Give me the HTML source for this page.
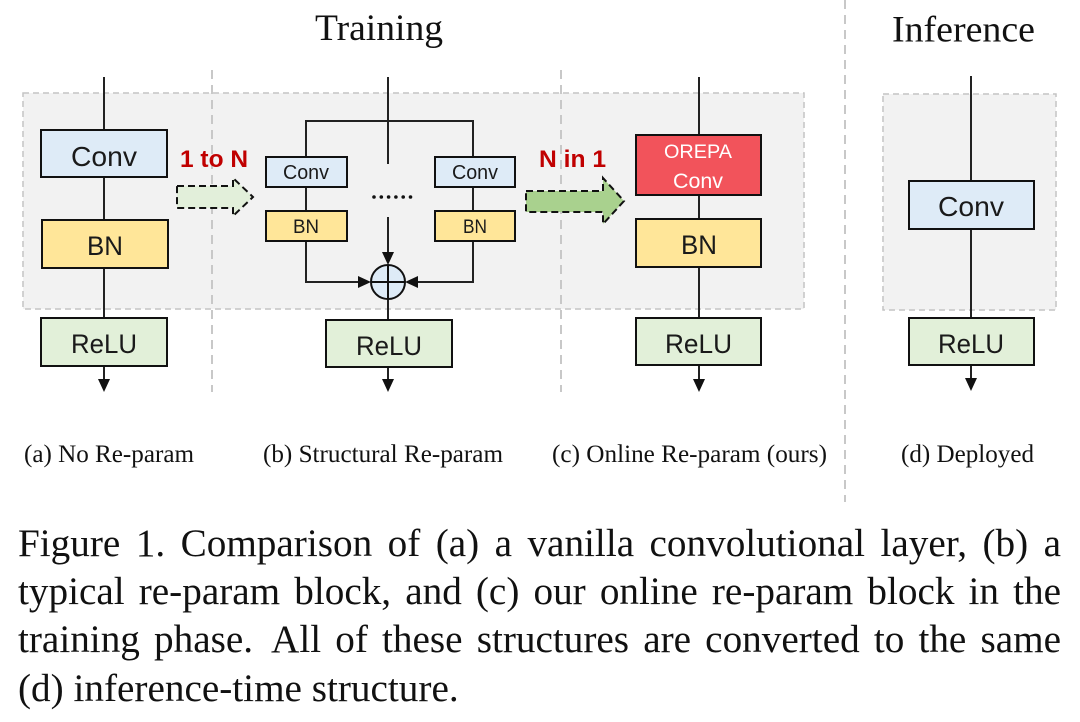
<!DOCTYPE html>
<html>
<head>
<meta charset="utf-8">
<style>
  html,body{margin:0;padding:0;background:#fff;}
  body{width:1080px;height:722px;position:relative;overflow:hidden;}
  svg{position:absolute;left:0;top:0;}
  .cap{position:absolute;left:18px;width:1043px;font-family:"Liberation Serif",serif;font-size:39.2px;line-height:39.2px;color:#111;white-space:nowrap;}
  .j{text-align:justify;text-align-last:justify;}
</style>
</head>
<body>
<svg width="1080" height="722" viewBox="0 0 1080 722" xmlns="http://www.w3.org/2000/svg">
  <!-- gray backgrounds -->
  <rect x="23" y="93" width="781" height="216" fill="#f2f2f2" stroke="#c4c4c4" stroke-width="1.5" stroke-dasharray="6 4"/>
  <rect x="883" y="94" width="173" height="216" fill="#f2f2f2" stroke="#c4c4c4" stroke-width="1.5" stroke-dasharray="6 4"/>

  <!-- dividers -->
  <g stroke="#c8c8c8" stroke-width="2" stroke-dasharray="9 6" fill="none">
    <line x1="212" y1="70" x2="212" y2="392"/>
    <line x1="561" y1="70" x2="561" y2="392"/>
    <line x1="845" y1="0" x2="845" y2="502"/>
  </g>

  <!-- titles -->
  <g font-family="Liberation Serif, serif" fill="#111">
    <text x="379" y="40" font-size="37" text-anchor="middle" textLength="128" lengthAdjust="spacingAndGlyphs">Training</text>
    <text x="963.5" y="41.5" font-size="37" text-anchor="middle" textLength="143" lengthAdjust="spacingAndGlyphs">Inference</text>
  </g>

  <!-- connector lines -->
  <g stroke="#222" stroke-width="2" fill="none">
    <path d="M104 77 V130 M104 177 V220 M104 268 V318 M104 366 V380"/>
    <path d="M388 77 V121 M306 157 V121 H473 V157 M388 121 V164 M388 217 V254"/>
    <path d="M306 187 V211 M473 187 V211"/>
    <path d="M306 241 V282 H360 M473 241 V282 H416"/>
    <path d="M388 299 V320 M388 367 V380"/>
    <path d="M699 77 V135 M699 195 V219 M699 267 V318 M699 365 V380"/>
    <path d="M971 76 V181 M971 229 V318 M971 365 V379"/>
  </g>

  <!-- arrowheads -->
  <g fill="#111">
    <polygon points="98,379 110,379 104,392"/>
    <polygon points="382,379 394,379 388,392"/>
    <polygon points="693,379 705,379 699,392"/>
    <polygon points="965,378 977,378 971,391"/>
    <polygon points="382,252 394,252 388,265"/>
    <polygon points="358,276 358,288 371,282"/>
    <polygon points="418,276 418,288 405,282"/>
  </g>

  <!-- sum circle -->
  <circle cx="388" cy="282" r="17" fill="#deebf7" stroke="#111" stroke-width="2"/>
  <path d="M371 282 H405 M388 265 V299" stroke="#111" stroke-width="2"/>

  <!-- dots -->
  <g fill="#111">
    <circle cx="374" cy="197" r="1.8"/>
    <circle cx="381.3" cy="197" r="1.8"/>
    <circle cx="388.6" cy="197" r="1.8"/>
    <circle cx="395.9" cy="197" r="1.8"/>
    <circle cx="403.2" cy="197" r="1.8"/>
    <circle cx="410.5" cy="197" r="1.8"/>
  </g>

  <!-- boxes -->
  <g stroke="#111" stroke-width="2">
    <rect x="41" y="130" width="126" height="47" fill="#deebf7"/>
    <rect x="42" y="220" width="126" height="48" fill="#ffe699"/>
    <rect x="41" y="318" width="126" height="48" fill="#e2f0d9"/>

    <rect x="266" y="157" width="81" height="30" fill="#deebf7"/>
    <rect x="266" y="211" width="81" height="30" fill="#ffe699"/>
    <rect x="435" y="157" width="80" height="30" fill="#deebf7"/>
    <rect x="435" y="211" width="80" height="30" fill="#ffe699"/>
    <rect x="326" y="320" width="126" height="47" fill="#e2f0d9"/>

    <rect x="636" y="135" width="125" height="60" fill="#f2535b"/>
    <rect x="636" y="219" width="125" height="48" fill="#ffe699"/>
    <rect x="636" y="318" width="125" height="47" fill="#e2f0d9"/>

    <rect x="909" y="181" width="125" height="48" fill="#deebf7"/>
    <rect x="909" y="318" width="125" height="47" fill="#e2f0d9"/>
  </g>

  <!-- box labels -->
  <g font-family="Liberation Sans, sans-serif" fill="#1a1a1a" text-anchor="middle">
    <text x="104" y="166" font-size="28" textLength="66" lengthAdjust="spacingAndGlyphs">Conv</text>
    <text x="105" y="255" font-size="27" textLength="36" lengthAdjust="spacingAndGlyphs">BN</text>
    <text x="104" y="353" font-size="27" textLength="66" lengthAdjust="spacingAndGlyphs">ReLU</text>

    <text x="306" y="179" font-size="20" textLength="46" lengthAdjust="spacingAndGlyphs">Conv</text>
    <text x="306" y="233" font-size="19" textLength="26" lengthAdjust="spacingAndGlyphs">BN</text>
    <text x="475" y="179" font-size="20" textLength="46" lengthAdjust="spacingAndGlyphs">Conv</text>
    <text x="475" y="233" font-size="19" textLength="24" lengthAdjust="spacingAndGlyphs">BN</text>
    <text x="389" y="355" font-size="27" textLength="66" lengthAdjust="spacingAndGlyphs">ReLU</text>

    <text x="698" y="158" font-size="19.5" fill="#ffffff" textLength="68" lengthAdjust="spacingAndGlyphs">OREPA</text>
    <text x="698" y="188" font-size="21" fill="#ffffff" textLength="50" lengthAdjust="spacingAndGlyphs">Conv</text>
    <text x="699" y="254" font-size="27" textLength="36" lengthAdjust="spacingAndGlyphs">BN</text>
    <text x="698.5" y="353" font-size="27" textLength="67" lengthAdjust="spacingAndGlyphs">ReLU</text>

    <text x="971" y="216" font-size="28" textLength="66" lengthAdjust="spacingAndGlyphs">Conv</text>
    <text x="971" y="353" font-size="27" textLength="66" lengthAdjust="spacingAndGlyphs">ReLU</text>
  </g>

  <!-- transform arrows -->
  <polygon points="177,186 233,186 233,178 253,197 233,216 233,208 177,208" fill="#e2efda" stroke="#111" stroke-width="2" stroke-dasharray="7 4" stroke-linejoin="miter"/>
  <polygon points="526,191 603,191 603,178 624,201 603,224 603,212 526,212" fill="#a9d18e" stroke="#111" stroke-width="2" stroke-dasharray="7 4" stroke-linejoin="miter"/>

  <g font-family="Liberation Sans, sans-serif" font-weight="bold" fill="#c00000" font-size="24">
    <text x="180" y="167" textLength="68" lengthAdjust="spacingAndGlyphs">1 to N</text>
    <text x="539" y="167" textLength="67" lengthAdjust="spacingAndGlyphs">N in 1</text>
  </g>

  <!-- sub captions -->
  <g font-family="Liberation Serif, serif" font-size="25" fill="#111">
    <text x="24" y="462" textLength="170" lengthAdjust="spacingAndGlyphs">(a) No Re-param</text>
    <text x="263" y="462" textLength="240" lengthAdjust="spacingAndGlyphs">(b) Structural Re-param</text>
    <text x="552" y="462" textLength="275" lengthAdjust="spacingAndGlyphs">(c) Online Re-param (ours)</text>
    <text x="901" y="462" textLength="133" lengthAdjust="spacingAndGlyphs">(d) Deployed</text>
  </g>
</svg>

<div class="cap j" style="top:523.5px;">Figure 1. Comparison of (a) a vanilla convolutional layer, (b) a</div>
<div class="cap j" style="top:571.7px;">typical re-param block, and (c) our online re-param block in the</div>
<div class="cap j" style="top:620.2px;">training phase.<span style="display:inline-block;width:6px;"></span> All of these structures are converted to the same</div>
<div class="cap" style="top:668.7px;">(d) inference-time structure.</div>
</body>
</html>
